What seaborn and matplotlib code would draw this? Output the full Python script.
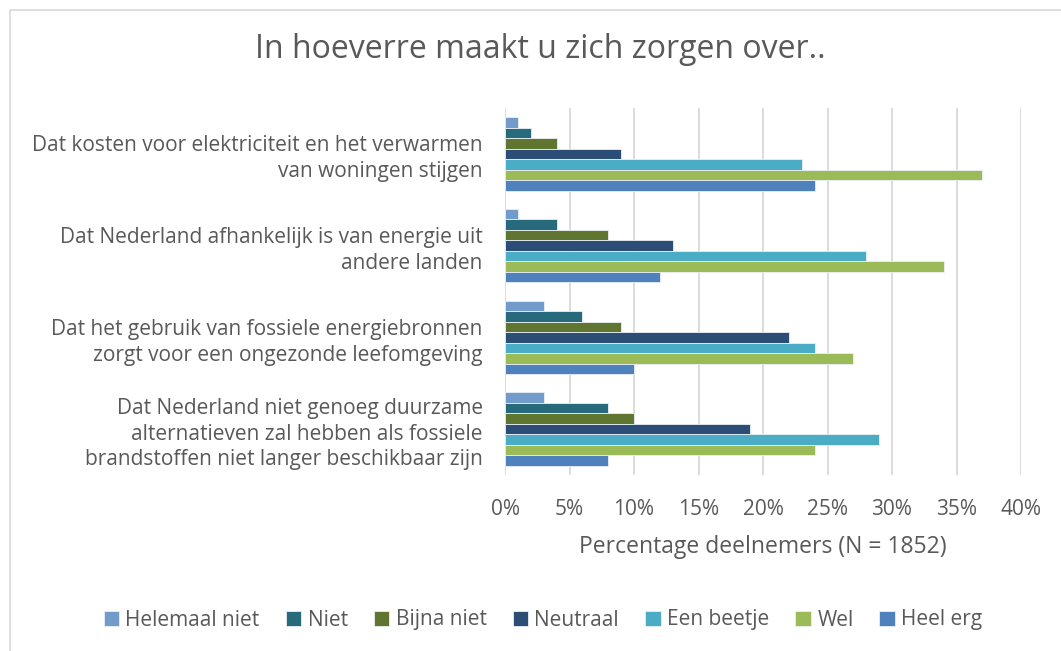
import numpy as np
import pandas as pd
import matplotlib.pyplot as plt
import seaborn as sns
from matplotlib.patches import Rectangle

# data (percent of participants)
categories = [
    "Dat kosten voor elektriciteit en het verwarmen\nvan woningen stijgen",
    "Dat Nederland afhankelijk is van energie uit\nandere landen",
    "Dat het gebruik van fossiele energiebronnen\nzorgt voor een ongezonde leefomgeving",
    "Dat Nederland niet genoeg duurzame\nalternatieven zal hebben als fossiele\nbrandstoffen niet langer beschikbaar zijn",
]
answers = ["Helemaal niet", "Niet", "Bijna niet", "Neutraal", "Een beetje", "Wel", "Heel erg"]
helemaal_niet = [1, 1, 3, 3]
niet = [2, 4, 6, 8]
bijna_niet = [4, 8, 9, 10]
neutraal = [9, 13, 22, 19]
een_beetje = [23, 28, 24, 29]
wel = [37, 34, 27, 24]
heel_erg = [24, 12, 10, 8]

colors = ["#729ACA", "#276A7C", "#5F7530", "#2C4D75", "#4BACC6", "#9BBB59", "#4F81BD"]

series = [helemaal_niet, niet, bijna_niet, neutraal, een_beetje, wel, heel_erg]
rows = []
for ans, vals in zip(answers, series):
    for cat, v in zip(categories, vals):
        rows.append({"vraag": cat, "antwoord": ans, "pct": v})
df = pd.DataFrame(rows)

sns.set_theme(style="white")
plt.rcParams["font.family"] = ["Open Sans", "DejaVu Sans"]
txt = "#595959"

fig = plt.figure(figsize=(10.61, 6.51), dpi=100)
ax = fig.add_axes([505 / 1061, 1 - 475 / 651, (1021 - 505) / 1061, (475 - 108) / 651])

sns.barplot(data=df, y="vraag", x="pct", hue="antwoord", order=categories,
            hue_order=answers, palette=colors, width=0.8, orient="h",
            saturation=1, ax=ax, legend=True, linewidth=0.6, edgecolor="#EAF0F6")

ax.set_xlim(0, 40)
ax.set_xticks(np.arange(0, 41, 5))
ax.set_xticklabels([f"{t}%" for t in range(0, 41, 5)], fontsize=15, color=txt)
ax.tick_params(axis="x", pad=17, length=0)
ax.tick_params(axis="y", pad=16, length=0)
for lbl in ax.get_yticklabels():
    lbl.set_fontsize(15)
    lbl.set_color(txt)
    lbl.set_horizontalalignment("right")
    lbl.set_linespacing(1.3)
ax.set_ylabel("")
ax.set_xlabel("Percentage deelnemers (N = 1852)", fontsize=16.5, color=txt, labelpad=11)
ax.grid(axis="x", color="#D9D9D9", linewidth=1.3)
ax.set_axisbelow(True)
for s in ax.spines.values():
    s.set_visible(False)

ax.legend_.remove()
handles, labels = ax.get_legend_handles_labels()
fig.legend(handles[:7], labels[:7], loc="center", bbox_to_anchor=(543 / 1061, 1 - 620 / 651),
           ncol=7, frameon=False, fontsize=15, labelcolor=txt, handlelength=0.75,
           handleheight=0.75, handletextpad=0.3, columnspacing=1.25)

fig.text(540 / 1061, 1 - 50 / 651, "In hoeverre maakt u zich zorgen over..",
         ha="center", va="center", fontsize=23, color=txt)

fig.patches.append(Rectangle((10 / 1061, -0.05), 1.1, 1 - 10 / 651 + 0.05,
                             transform=fig.transFigure, fill=False,
                             edgecolor="#D9D9D9", linewidth=1.2))

fig.savefig("out.png", dpi=100, facecolor="white")
